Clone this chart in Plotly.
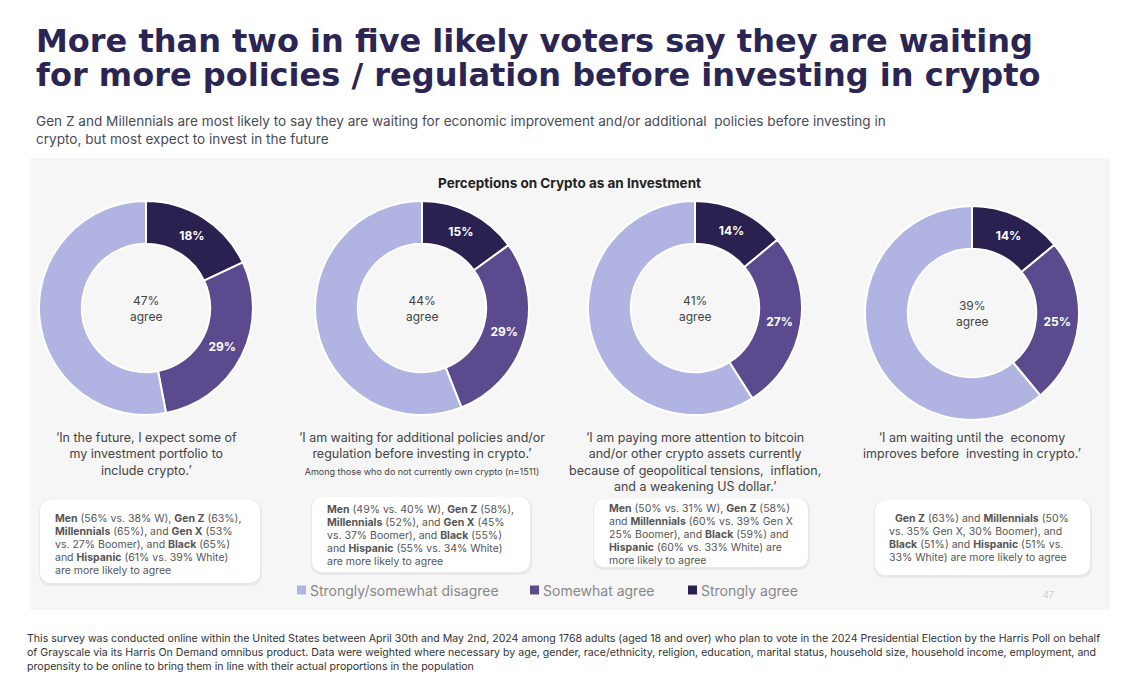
import plotly.graph_objects as go

W, H = 1140, 694

# ---------------- data ----------------
categories = ["Strongly agree", "Somewhat agree", "Strongly/somewhat disagree"]
strongly_agree = [18, 15, 14, 14]
somewhat_agree = [29, 29, 27, 25]
disagree = [53, 56, 59, 61]
agree_total = [47, 44, 41, 39]
legend_order = ["Strongly/somewhat disagree", "Somewhat agree", "Strongly agree"]

quotes = [
    "‘In the future, I expect some of<br>my investment portfolio to<br>include crypto.’",
    "‘I am waiting for additional policies and/or<br>regulation before investing in crypto.’<br><span style='font-size:9px'>Among those who do not currently own crypto (n=1511)</span>",
    "‘I am paying more attention to bitcoin<br>and/or other crypto assets currently<br>because of geopolitical tensions,  inflation,<br>and a weakening US dollar.’",
    "‘I am waiting until the  economy<br>improves before  investing in crypto.’",
]
notes = [
    ["<b>Men</b> (56% vs. 38% W), <b>Gen Z</b> (63%),",
     "<b>Millennials</b> (65%), and <b>Gen X</b> (53%",
     "vs. 27% Boomer), and <b>Black</b> (65%)",
     "and <b>Hispanic</b> (61% vs. 39% White)",
     "are more likely to agree"],
    ["<b>Men</b> (49% vs. 40% W), <b>Gen Z</b> (58%),",
     "<b>Millennials</b> (52%), and <b>Gen X</b> (45%",
     "vs. 37% Boomer), and <b>Black</b> (55%)",
     "and <b>Hispanic</b> (55% vs. 34% White)",
     "are more likely to agree"],
    ["<b>Men</b> (50% vs. 31% W), <b>Gen Z</b> (58%)",
     "and <b>Millennials</b> (60% vs. 39% Gen X",
     "25% Boomer), and <b>Black</b> (59%) and",
     "<b>Hispanic</b> (60% vs. 33% White) are",
     "more likely to agree"],
    ["\u00a0\u00a0<b>Gen Z</b> (63%) and <b>Millennials</b> (50%",
     "vs. 35% Gen X, 30% Boomer), and",
     "<b>Black</b> (51%) and <b>Hispanic</b> (51% vs.",
     "33% White) are more likely to agree"],
]

title_lines = ["More than two in five likely voters say they are waiting",
               "for more policies / regulation before investing in crypto"]
subtitle = ("Gen Z and Millennials are most likely to say they are waiting for economic improvement and/or additional  policies before investing in<br>"
            "crypto, but most expect to invest in the future")
chart_title = "Perceptions on Crypto as an Investment"
footnote = ("This survey was conducted online within the United States between April 30th and May 2nd, 2024 among 1768 adults (aged 18 and over) who plan to vote in the 2024 Presidential Election by the Harris Poll on behalf<br>"
            "of Grayscale via its Harris On Demand omnibus product. Data were weighted where necessary by age, gender, race/ethnicity, religion, education, marital status, household size, household income, employment, and<br>"
            "propensity to be online to bring them in line with their actual proportions in the population")

# ---------------- style / layout ----------------
color_map = {"Strongly agree": "#2b2150", "Somewhat agree": "#5c4a8f",
             "Strongly/somewhat disagree": "#b1b4e2"}
FONT = "Inter"
TITLE_FONT = "DejaVu Sans"
OFF = 8  # page body margin
centers = [(146, 308), (422, 308), (695, 308), (972, 313)]
R = 107
boxes = [(40, 500, 260, 583), (312, 497, 530, 572), (594, 499, 808, 567), (875, 500, 1090, 575)]
note_left = [55, 327, 609, 889]
note_top = [518, 509, 508, 518]
NOTE_STEP = 13
legend_x = [297, 530, 688]
legend_y = 590


def px(x):
    return (x - OFF) / W


def py(y):
    return 1 - (y - OFF) / H


fig = go.Figure()

for i, (cx, cy) in enumerate(centers):
    vals = [strongly_agree[i], somewhat_agree[i], disagree[i]]
    fig.add_trace(go.Pie(
        labels=categories,
        values=vals,
        text=[f"{strongly_agree[i]}%", f"{somewhat_agree[i]}%", ""],
        textinfo="text",
        textposition="inside",
        insidetextorientation="horizontal",
        insidetextfont=dict(color="white", size=12, family=FONT, weight=700),
        hole=0.6,
        sort=False,
        direction="clockwise",
        rotation=0,
        marker=dict(colors=[color_map[c] for c in categories], line=dict(color="white", width=2)),
        domain=dict(x=[px(cx - R), px(cx + R)], y=[py(cy + R), py(cy - R)]),
        showlegend=False,
        hoverinfo="label+percent",
    ))

shapes = []
shapes.append(dict(type="rect", xref="paper", yref="paper", x0=px(30), x1=px(1110), y0=py(610), y1=py(158),
                   fillcolor="#f6f6f6", line=dict(width=0), layer="below"))


def rounded(x0, y0, x1, y1, r):
    X0, X1 = px(x0), px(x1)
    Y0, Y1 = py(y1), py(y0)
    rx, ry = r / W, r / H
    return (f"M{X0+rx},{Y0} L{X1-rx},{Y0} Q{X1},{Y0} {X1},{Y0+ry} L{X1},{Y1-ry} Q{X1},{Y1} {X1-rx},{Y1} "
            f"L{X0+rx},{Y1} Q{X0},{Y1} {X0},{Y1-ry} L{X0},{Y0+ry} Q{X0},{Y0} {X0+rx},{Y0} Z")


for (x0, y0, x1, y1) in boxes:
    shapes.append(dict(type="path", xref="paper", yref="paper", path=rounded(x0 - 1, y0, x1 + 2, y1 + 3, 12),
                       fillcolor="#e9e9ec", line=dict(width=0), layer="below"))
    shapes.append(dict(type="path", xref="paper", yref="paper", path=rounded(x0, y0, x1, y1, 12),
                       fillcolor="white", line=dict(width=0), layer="below"))

annotations = []
for k, line in enumerate(title_lines):
    annotations.append(dict(text=line, x=px(34), y=py([41, 75][k]), xref="paper", yref="paper",
                            xanchor="left", yanchor="middle", align="left", showarrow=False,
                            font=dict(family=TITLE_FONT, size=32, color="#2b2553", weight=700)))
annotations.append(dict(text=subtitle, x=px(34), y=py(130), xref="paper", yref="paper",
                        xanchor="left", yanchor="middle", align="left", showarrow=False,
                        font=dict(family=FONT, size=13.6, color="#4a4a55")))
annotations.append(dict(text=f"<b>{chart_title}</b>", x=px(569), y=py(183), xref="paper", yref="paper",
                        xanchor="center", yanchor="middle", showarrow=False,
                        font=dict(family=FONT, size=13.5, color="#222")))

for i, (cx, cy) in enumerate(centers):
    annotations.append(dict(text=f"{agree_total[i]}%<br>agree", x=px(cx), y=py(cy), xref="paper", yref="paper",
                            xanchor="center", yanchor="middle", showarrow=False,
                            font=dict(family=FONT, size=12, color="#444")))
    annotations.append(dict(text=quotes[i], x=px(cx), y=py(428), xref="paper", yref="paper",
                            xanchor="center", yanchor="top", align="center", showarrow=False,
                            font=dict(family=FONT, size=12.5, color="#444")))
    for j, line in enumerate(notes[i]):
        annotations.append(dict(text=line, x=px(note_left[i] - 2), y=py(note_top[i] + j * NOTE_STEP),
                                xref="paper", yref="paper", xanchor="left", yanchor="middle", align="left",
                                showarrow=False, font=dict(family=FONT, size=10.5, color="#555")))

# manual legend
for lx, name in zip(legend_x, legend_order):
    shapes.append(dict(type="rect", xref="paper", yref="paper", x0=px(lx), x1=px(lx + 9),
                       y0=py(legend_y + 4.5), y1=py(legend_y - 4.5),
                       fillcolor=color_map[name], line=dict(width=0)))
    annotations.append(dict(text=name, x=px(lx + 11), y=py(legend_y), xref="paper", yref="paper",
                            xanchor="left", yanchor="middle", showarrow=False,
                            font=dict(family=FONT, size=14, color="#888")))

annotations.append(dict(text="47", x=px(1048), y=py(594), xref="paper", yref="paper",
                        xanchor="center", yanchor="middle", showarrow=False,
                        font=dict(family=FONT, size=9, color="#ccc")))
annotations.append(dict(text=footnote, x=px(25), y=py(630), xref="paper", yref="paper",
                        xanchor="left", yanchor="top", align="left", showarrow=False,
                        font=dict(family=FONT, size=10.6, color="#333")))

fig.update_layout(
    width=W, height=H,
    margin=dict(l=0, r=0, t=0, b=0),
    paper_bgcolor="white",
    plot_bgcolor="white",
    shapes=shapes,
    annotations=annotations,
    showlegend=False,
)

fig.write_html("out.html")
